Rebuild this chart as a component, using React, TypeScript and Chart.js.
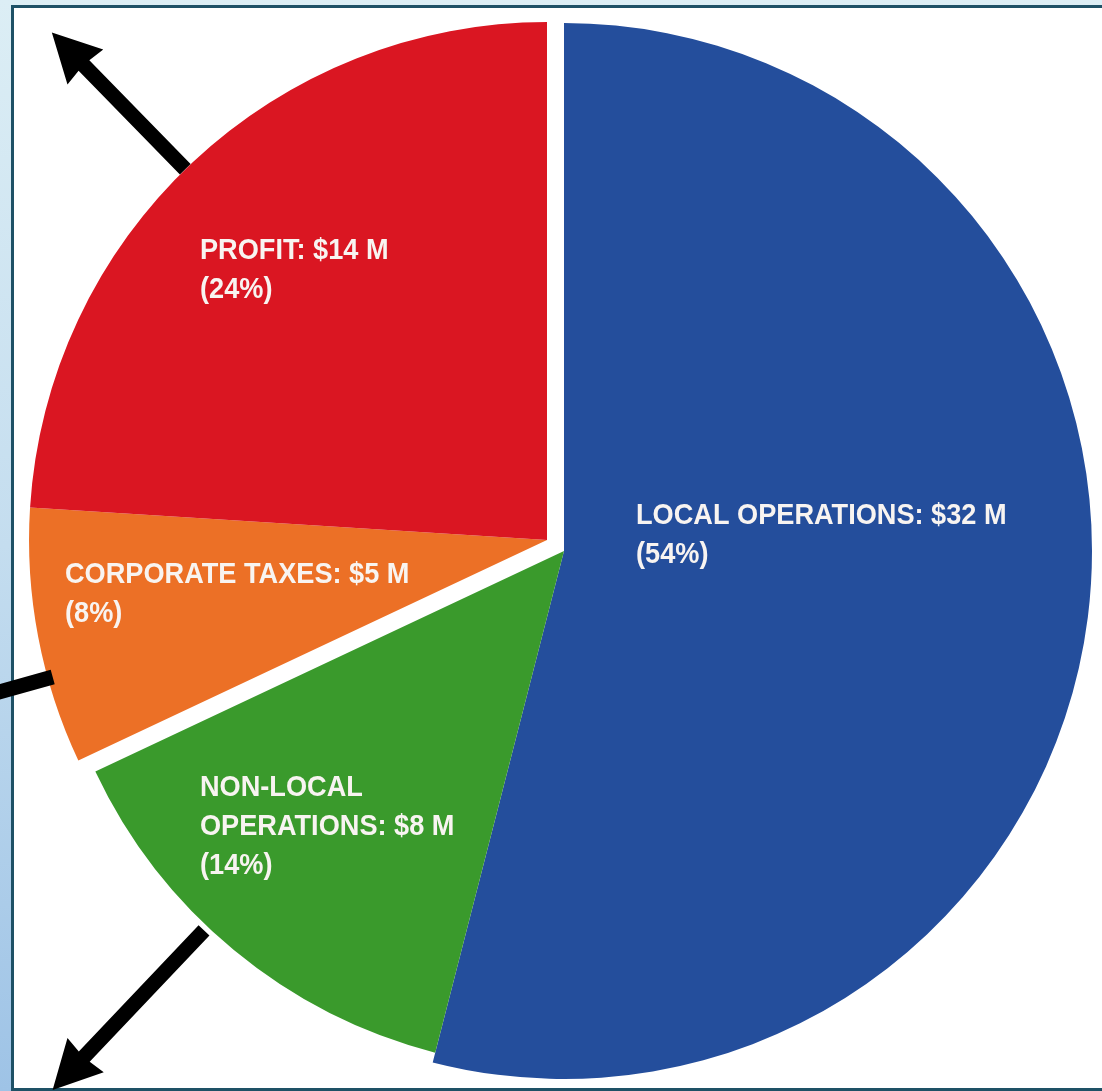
import React, { useEffect, useRef } from 'react';
import { Chart, registerables } from 'chart.js';

Chart.register(...registerables);

// ---- data ----
const CATEGORY_LINES: string[][] = [
  ['LOCAL OPERATIONS'],
  ['NON-LOCAL', 'OPERATIONS'],
  ['CORPORATE TAXES'],
  ['PROFIT'],
];
const AMOUNTS_M = [32, 8, 5, 14];
const PERCENTS = [54, 14, 8, 24];

// ---- styles ----
const W = 1102;
const H = 1091;
const COLORS = ['#244e9c', '#3a9a2c', '#ec7026', '#da1622'];
const PIE_PADDING = { left: 36, top: 23, right: 10, bottom: 12 };
// explode shift (px) and radius factor per slice
const EXPLODE = [
  { dx: 0, dy: 0, r: 1 },
  { dx: 0, dy: 0, r: 0.981 },
  { dx: -17, dy: -11, r: 0.981 },
  { dx: -17, dy: -11, r: 0.981 },
];
// label anchor (left, first baseline) relative to pie centre
const LABEL_POS = [
  [72, -27],
  [-364, 245],
  [-499, 32],
  [-364, -292],
];
const FONT_SIZE = 30;
const LINE_PITCH = 39;
const TEXT_SCALE_X = 0.905;
const LABEL_COLOR = '#f8f4f1';
// arrows: slice, angle (deg clockwise from top), start offset from arc edge, length
const ARROWS = [
  { slice: 3, angle: 315.7, from: 0, len: 191 },
  { slice: 2, angle: 254.5, from: -5, len: 260 },
  { slice: 1, angle: 223.5, from: 5, len: 220 },
];
const SHAFT_W = 15;
const HEAD_LEN = 48;
const HEAD_HALF = 25;

function labelLines(i: number): string[] {
  const names = CATEGORY_LINES[i];
  const out = names.slice(0, -1);
  out.push(`${names[names.length - 1]}: $${AMOUNTS_M[i]} M`);
  out.push(`(${PERCENTS[i]}%)`);
  return out;
}

const explodePlugin = {
  id: 'explodeSlices',
  afterDatasetsUpdate(chart: any) {
    const meta = chart.getDatasetMeta(0);
    meta.data.forEach((arc: any, i: number) => {
      const e = EXPLODE[i];
      if (!e) return;
      arc.x += e.dx;
      arc.y += e.dy;
      arc.outerRadius = arc.outerRadius * e.r;
    });
  },
};

const labelPlugin = {
  id: 'sliceLabels',
  afterDatasetsDraw(chart: any) {
    const ctx = chart.ctx;
    const area = chart.chartArea;
    const cx = (area.left + area.right) / 2;
    const cy = (area.top + area.bottom) / 2;
    ctx.save();
    ctx.fillStyle = LABEL_COLOR;
    ctx.font = `bold ${FONT_SIZE}px "Liberation Sans", Arial, sans-serif`;
    ctx.textBaseline = 'alphabetic';
    ctx.textAlign = 'left';
    PERCENTS.forEach((_, i) => {
      const [ox, oy] = LABEL_POS[i];
      labelLines(i).forEach((line, j) => {
        ctx.save();
        ctx.translate(cx + ox, cy + oy + j * LINE_PITCH);
        ctx.scale(TEXT_SCALE_X, 1);
        ctx.fillText(line, 0, 0);
        ctx.restore();
      });
    });
    ctx.restore();
  },
};

const arrowPlugin = {
  id: 'arrows',
  afterDraw(chart: any) {
    const ctx = chart.ctx;
    const meta = chart.getDatasetMeta(0);
    ctx.save();
    ctx.fillStyle = '#000000';
    ARROWS.forEach((a) => {
      const arc = meta.data[a.slice];
      const t = (a.angle * Math.PI) / 180;
      const ux = Math.sin(t);
      const uy = -Math.cos(t);
      const px = -uy;
      const py = ux;
      const r1 = arc.outerRadius + a.from;
      const r2 = r1 + a.len;
      const sx = arc.x + ux * r1;
      const sy = arc.y + uy * r1;
      const tx = arc.x + ux * r2;
      const ty = arc.y + uy * r2;
      const bx = tx - ux * HEAD_LEN;
      const by = ty - uy * HEAD_LEN;
      const hw = SHAFT_W / 2;
      ctx.beginPath();
      ctx.moveTo(sx + px * hw, sy + py * hw);
      ctx.lineTo(bx + px * hw + ux * 2, by + py * hw + uy * 2);
      ctx.lineTo(bx + px * HEAD_HALF, by + py * HEAD_HALF);
      ctx.lineTo(tx, ty);
      ctx.lineTo(bx - px * HEAD_HALF, by - py * HEAD_HALF);
      ctx.lineTo(bx - px * hw + ux * 2, by - py * hw + uy * 2);
      ctx.lineTo(sx - px * hw, sy - py * hw);
      ctx.closePath();
      ctx.fill();
    });
    ctx.restore();
  },
};

export default function App() {
  const canvasRef = useRef<HTMLCanvasElement | null>(null);

  useEffect(() => {
    if (!canvasRef.current) return;
    const chart = new Chart(canvasRef.current, {
      type: 'pie',
      data: {
        labels: CATEGORY_LINES.map((l) => l.join(' ')),
        datasets: [
          {
            data: PERCENTS,
            backgroundColor: COLORS,
            borderWidth: 0,
            clip: false,
          } as any,
        ],
      },
      options: {
        animation: false,
        responsive: false,
        devicePixelRatio: 1,
        layout: { padding: PIE_PADDING },
        plugins: {
          legend: { display: false },
          tooltip: { enabled: false },
        },
        events: [],
      },
      plugins: [explodePlugin, labelPlugin, arrowPlugin],
    });
    return () => chart.destroy();
  }, []);

  return (
    <div
      style={{
        position: 'absolute',
        left: 0,
        top: 0,
        width: W,
        height: H,
        overflow: 'hidden',
        background: 'linear-gradient(to bottom, #dceef5 0%, #c4ddef 50%, #9ec3e6 100%)',
      }}
    >
      <div
        style={{
          position: 'absolute',
          left: 11,
          top: 5,
          width: W,
          height: H - 5,
          boxSizing: 'border-box',
          border: '3px solid #1e5166',
          background: '#ffffff',
        }}
      />
      <canvas
        ref={canvasRef}
        width={W}
        height={H}
        style={{ position: 'absolute', left: 0, top: 0, width: W, height: H }}
      />
    </div>
  );
}
